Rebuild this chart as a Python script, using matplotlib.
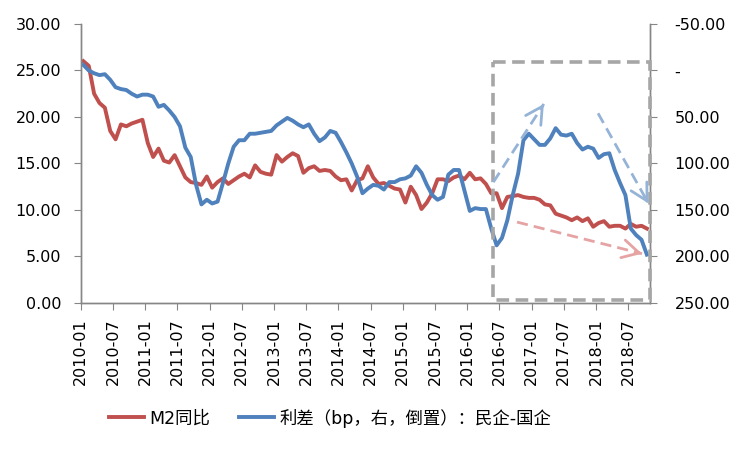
import numpy as np
import pandas as pd
import matplotlib
matplotlib.use('Agg')
import matplotlib.pyplot as plt
from matplotlib.patches import Rectangle

plt.rcParams['font.family'] = ['DejaVu Sans', 'Noto Sans CJK SC']

# monthly data, 2010-01 .. 2018-10
months = pd.date_range('2010-01', periods=106, freq='MS')
tick_labels = list(months[::6].strftime('%Y-%m'))

# M2 yoy (%)
m2_yoy = [
    26.0, 25.5, 22.5, 21.5, 21.0, 18.5, 17.6, 19.2, 19.0, 19.3, 19.5, 19.7,
    17.2, 15.7, 16.6, 15.3, 15.1, 15.9, 14.7, 13.5, 13.0, 12.9, 12.7, 13.6,
    12.4, 13.0, 13.4, 12.8, 13.2, 13.6, 13.9, 13.5, 14.8, 14.1, 13.9, 13.8,
    15.9, 15.2, 15.7, 16.1, 15.8, 14.0, 14.5, 14.7, 14.2, 14.3, 14.2, 13.6,
    13.2, 13.3, 12.1, 13.2, 13.4, 14.7, 13.5, 12.8, 12.9, 12.6, 12.3, 12.2,
    10.8, 12.5, 11.6, 10.1, 10.8, 11.8, 13.3, 13.3, 13.1, 13.5, 13.7, 13.3,
    14.0, 13.3, 13.4, 12.8, 11.8, 11.8, 10.2, 11.4, 11.5, 11.6, 11.4, 11.3,
    11.3, 11.1, 10.6, 10.5, 9.6, 9.4, 9.2, 8.9, 9.2, 8.8, 9.1, 8.2,
    8.6, 8.8, 8.2, 8.3, 8.3, 8.0, 8.5, 8.2, 8.3, 8.0,
]

# spread private - SOE (bp), plotted inverted on the right axis
spread_bp = [
    -6, 0, 3, 5, 4, 10, 18, 20, 21, 25, 28, 26,
    26, 28, 39, 37, 43, 50, 60, 83, 93, 123, 144, 139,
    143, 141, 121, 100, 82, 75, 75, 68, 68, 67, 66, 65,
    59, 55, 51, 54, 58, 61, 58, 68, 76, 72, 65, 67,
    77, 88, 100, 114, 132, 127, 123, 124, 128, 120, 120, 117,
    116, 113, 103, 110, 123, 134, 139, 136, 112, 107, 107, 129,
    151, 148, 149, 149, 170, 188, 180, 161, 134, 111, 75, 68,
    74, 80, 80, 73, 62, 69, 70, 68, 78, 85, 82, 84,
    94, 90, 89, 107, 121, 134, 170, 177, 182, 198,
]

red = '#c0504d'
blue = '#4f81bd'
axis_gray = '#868686'

fig = plt.figure(figsize=(7.5, 4.5), dpi=100)
ax = fig.add_axes([0.1076, 0.3267, 0.7585, 0.62])
ax2 = ax.twinx()

x = np.arange(len(months)) + 0.5
l1, = ax.plot(x, m2_yoy, color=red, lw=2.8, label='M2同比')
l2, = ax2.plot(x, spread_bp, color=blue, lw=2.8, label='利差（bp，右，倒置）：民企-国企')

ax.set_xlim(0, len(months))
ax.set_ylim(0, 30)
ax.set_yticks(np.arange(0, 31, 5))
ax.set_yticklabels(['%.2f' % v for v in np.arange(0, 31, 5)])
ax.set_xticks(np.arange(0, len(months), 6))
ax.set_xticklabels(tick_labels, rotation=90)

ax2.set_ylim(250, -50)
rticks = np.arange(-50, 251, 50)
ax2.set_yticks(rticks)
ax2.set_yticklabels(['-' if v == 0 else '%.2f' % v for v in rticks])

for a in (ax, ax2):
    a.spines['top'].set_visible(False)
    for s in ('left', 'right', 'bottom'):
        a.spines[s].set_color(axis_gray)
        a.spines[s].set_linewidth(1)
    a.tick_params(colors=axis_gray, labelcolor='black', labelsize=11.5, length=5)
ax.tick_params(axis='y', pad=9)
ax.tick_params(axis='x', pad=6)
ax2.tick_params(axis='y', pad=13)

# highlight box and trend arrows
box = Rectangle((76.8, -9), len(months) - 76.8, 256, fill=False,
                edgecolor='#a6a6a6', lw=2.6, ls=(0, (3.5, 1.8)),
                clip_on=False, zorder=5)
ax2.add_patch(box)

arrows = [
    ((76.9, 120), (86.3, 36), '#95b3d7'),
    ((96.4, 46), (105.8, 143), '#95b3d7'),
    ((81.3, 163), (104.6, 197), '#e6a3a3'),
]
for (x0, y0), (x1, y1), c in arrows:
    # dashed shaft
    ax2.plot([x0, x1], [y0, y1], color=c, lw=2.0, ls=(0, (4, 2.2)),
             solid_capstyle='butt', zorder=6)
    # open head
    ax2.annotate('', xy=(x1, y1),
                 xytext=(x1 - 0.03 * (x1 - x0), y1 - 0.03 * (y1 - y0)),
                 arrowprops=dict(arrowstyle='->,head_length=1.2,head_width=0.65',
                                 color=c, lw=2.0, shrinkA=0, shrinkB=0),
                 zorder=6)

fig.legend(handles=[l1, l2], loc='center', bbox_to_anchor=(0.44, 0.071),
           ncol=2, frameon=False, fontsize=12.5, handlelength=2.0,
           handletextpad=0.3, columnspacing=1.7)

fig.savefig('out.png', dpi=100)
